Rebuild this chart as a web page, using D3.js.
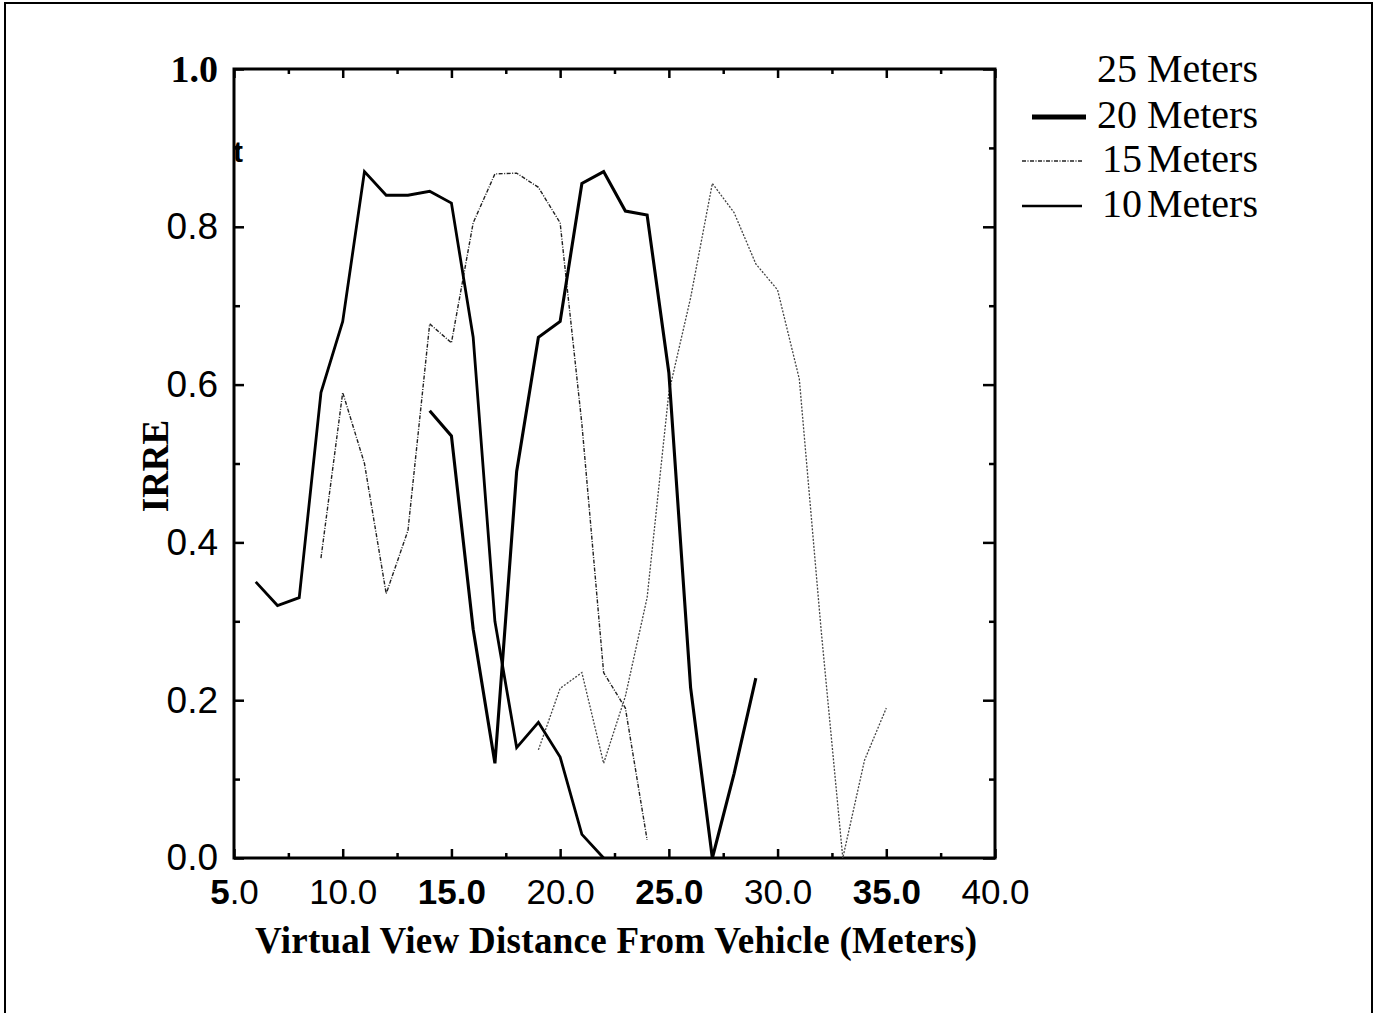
<!DOCTYPE html>
<html>
<head>
<meta charset="utf-8">
<script src="https://cdn.jsdelivr.net/npm/d3@7"></script>
<style>
  body { margin: 0; background: #fff; }
  svg { display: block; }
</style>
</head>
<body>
<div id="chart"></div>
<script>
// IRRE against virtual view distance, one series per real view distance
const tenX = [6, 7, 8, 9, 10, 11, 12, 13, 14, 15, 16, 17, 18, 19, 20, 21, 22];
const tenY = [0.35, 0.32, 0.33, 0.59, 0.68, 0.87, 0.84, 0.84, 0.845, 0.83, 0.66, 0.30, 0.14, 0.172, 0.128, 0.03, 0.0];

const fifteenX = [9, 10, 11, 12, 13, 14, 15, 16, 17, 18, 19, 20, 21, 22, 23, 24];
const fifteenY = [0.38, 0.59, 0.50, 0.335, 0.415, 0.677, 0.653, 0.805, 0.867, 0.868, 0.85, 0.805, 0.55, 0.235, 0.19, 0.023];

const twentyX = [14, 15, 16, 17, 18, 19, 20, 21, 22, 23, 24, 25, 26, 27, 28, 29];
const twentyY = [0.567, 0.535, 0.29, 0.12, 0.49, 0.66, 0.68, 0.855, 0.87, 0.82, 0.815, 0.615, 0.216, 0.0, 0.107, 0.228];

const twentyFiveX = [19, 20, 21, 22, 23, 24, 25, 26, 27, 28, 29, 30, 31, 32, 33, 34, 35];
const twentyFiveY = [0.137, 0.215, 0.235, 0.12, 0.205, 0.33, 0.59, 0.71, 0.855, 0.818, 0.753, 0.72, 0.607, 0.29, 0.0, 0.124, 0.19];

const xMajorTicks = [5, 10, 15, 20, 25, 30, 35, 40];
const xMinorTicks = [7.5, 12.5, 17.5, 22.5, 27.5, 32.5, 37.5];
const yMajorTicks = [0, 0.2, 0.4, 0.6, 0.8, 1.0];
const yMinorTicks = [0.1, 0.3, 0.5, 0.7, 0.9];
const boldXLabels = [15, 25, 35];

const legendLabels = ["25 Meters", "20 Meters", "15 Meters", "10 Meters"];

const W = 1375, H = 1013;
const plot = { left: 234, right: 995, top: 69, bottom: 858 };

const svg = d3.select("#chart").append("svg")
  .attr("width", W)
  .attr("height", H);

// page border from the scan
svg.append("rect")
  .attr("x", 5).attr("y", 3)
  .attr("width", 1367).attr("height", 1030)
  .attr("fill", "none")
  .attr("stroke", "#000")
  .attr("stroke-width", 2);

const x = d3.scaleLinear().domain([5, 40]).range([plot.left, plot.right]);
const y = d3.scaleLinear().domain([0, 1]).range([plot.bottom, plot.top]);

const sans = "Liberation Sans, Arial, sans-serif";
const serif = "Liberation Serif, Times New Roman, serif";

// ticks on all four sides, pointing into the plot
function ticks(axis, transform, values, size, labels) {
  const g = svg.append("g")
    .attr("transform", transform)
    .call(axis.tickValues(values).tickSize(-size).tickSizeOuter(0)
      .tickFormat(labels ? labels : () => ""));
  g.select(".domain").remove();
  g.selectAll(".tick line").attr("stroke", "#000").attr("stroke-width", 2.5);
  return g;
}

const bottomAxis = ticks(d3.axisBottom(x).tickPadding(21), `translate(0,${plot.bottom})`,
  xMajorTicks, 9, d3.format(".1f"));
ticks(d3.axisBottom(x), `translate(0,${plot.bottom})`, xMinorTicks, 5);
ticks(d3.axisTop(x), `translate(0,${plot.top})`, xMajorTicks, 9);
ticks(d3.axisTop(x), `translate(0,${plot.top})`, xMinorTicks, 5);

const leftAxis = ticks(d3.axisLeft(y).tickPadding(16), `translate(${plot.left},0)`,
  yMajorTicks, 10, d3.format(".1f"));
ticks(d3.axisLeft(y), `translate(${plot.left},0)`, yMinorTicks, 6);
ticks(d3.axisRight(y), `translate(${plot.right},0)`, yMajorTicks, 12);
ticks(d3.axisRight(y), `translate(${plot.right},0)`, yMinorTicks, 6);

bottomAxis.selectAll(".tick text")
  .attr("font-family", sans)
  .attr("font-size", 35)
  .attr("fill", "#000")
  .attr("font-weight", d => boldXLabels.includes(d) ? "bold" : "normal")
  .each(function (d) {
    if (d !== 5) return;
    const t = d3.select(this).text(null);
    t.append("tspan").attr("font-weight", "bold").text("5");
    t.append("tspan").text(".0");
  });

leftAxis.selectAll(".tick text")
  .attr("font-family", d => d === 1 ? serif : sans)
  .attr("font-weight", d => d === 1 ? "bold" : "normal")
  .attr("font-size", d => d === 1 ? 38 : 37)
  .attr("fill", "#000");

// frame
svg.append("rect")
  .attr("x", plot.left).attr("y", plot.top)
  .attr("width", plot.right - plot.left)
  .attr("height", plot.bottom - plot.top)
  .attr("fill", "none")
  .attr("stroke", "#000")
  .attr("stroke-width", 3);

// stray glyph from the scan next to the axis
svg.append("text")
  .attr("x", 238).attr("y", 162)
  .attr("text-anchor", "middle")
  .attr("font-family", sans)
  .attr("font-weight", "bold")
  .attr("font-size", 30)
  .text("t");

// series
const line = d3.line().x(d => x(d[0])).y(d => y(d[1]));
const series = [
  { xs: twentyFiveX, ys: twentyFiveY, stroke: "#444", width: 1.3, dash: "2,1.5" },
  { xs: fifteenX, ys: fifteenY, stroke: "#222", width: 1.4, dash: "4,1.5,1,1.5" },
  { xs: tenX, ys: tenY, stroke: "#000", width: 2.8, dash: null },
  { xs: twentyX, ys: twentyY, stroke: "#000", width: 3.1, dash: null },
];

svg.append("g")
  .selectAll("path")
  .data(series)
  .join("path")
  .attr("d", s => line(d3.zip(s.xs, s.ys)))
  .attr("fill", "none")
  .attr("stroke", s => s.stroke)
  .attr("stroke-width", s => s.width)
  .attr("stroke-dasharray", s => s.dash)
  .attr("stroke-linejoin", "miter");

// axis titles
svg.append("text")
  .attr("x", 255).attr("y", 953)
  .attr("font-family", serif)
  .attr("font-weight", "bold")
  .attr("font-size", 37)
  .attr("textLength", 722)
  .attr("lengthAdjust", "spacing")
  .text("Virtual View Distance From Vehicle (Meters)");

svg.append("text")
  .attr("transform", "translate(168,466) rotate(-90)")
  .attr("text-anchor", "middle")
  .attr("font-family", serif)
  .attr("font-weight", "bold")
  .attr("font-size", 37)
  .text("IRRE");

// legend (the 25 m sample did not survive the scan)
const legendRows = [
  { label: legendLabels[0], y: 82, sample: null },
  { label: legendLabels[1], y: 128, sample: { x1: 1032, x2: 1086, width: 5, dash: null, stroke: "#000" } },
  { label: legendLabels[2], y: 172, sample: { x1: 1022, x2: 1082, width: 1.4, dash: "4,1.5,1,1.5", stroke: "#222" } },
  { label: legendLabels[3], y: 217, sample: { x1: 1022, x2: 1082, width: 2.5, dash: null, stroke: "#000" } },
];

const legend = svg.append("g");
legend.selectAll("text")
  .data(legendRows)
  .join("text")
  .attr("x", 1258)
  .attr("y", d => d.y)
  .attr("text-anchor", "end")
  .attr("font-family", serif)
  .attr("font-size", 40)
  .attr("word-spacing", (d, i) => i >= 2 ? -5 : 0)
  .text(d => d.label);

legend.selectAll("line")
  .data(legendRows.filter(d => d.sample))
  .join("line")
  .attr("x1", d => d.sample.x1)
  .attr("x2", d => d.sample.x2)
  .attr("y1", d => d.y - 11)
  .attr("y2", d => d.y - 11)
  .attr("stroke", d => d.sample.stroke)
  .attr("stroke-width", d => d.sample.width)
  .attr("stroke-dasharray", d => d.sample.dash);
</script>
</body>
</html>
